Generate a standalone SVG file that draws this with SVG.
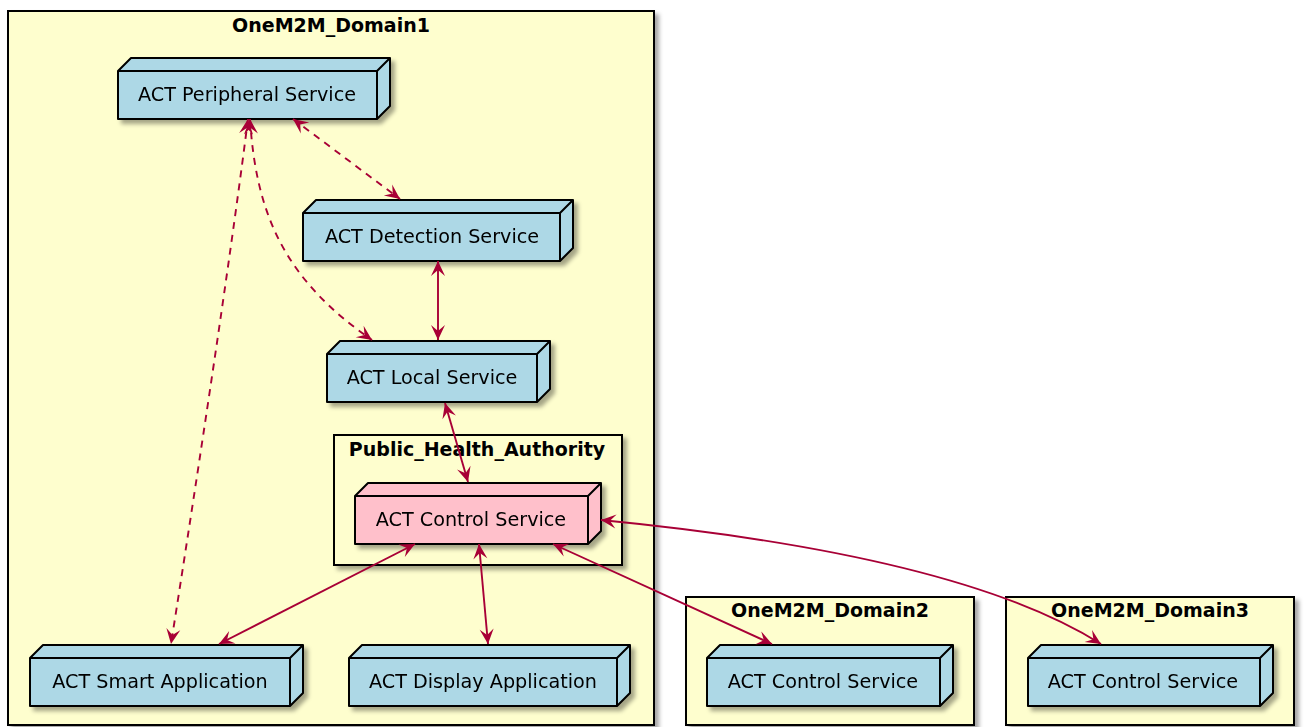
<svg xmlns="http://www.w3.org/2000/svg" width="1304" height="727" viewBox="0 0 1304 727">
<style>
.frame{fill:#FEFECE;stroke:#000;stroke-width:2;filter:url(#sh)}
.ftitle{font-family:"DejaVu Sans",sans-serif;font-weight:bold;font-size:19px;fill:#000;text-anchor:middle}
.node{stroke:#000;stroke-width:2;stroke-linejoin:round}
.blue{fill:#ADD8E6}
.pink{fill:#FFC0CB}
.ntext{font-family:"DejaVu Sans",sans-serif;font-size:19.2px;fill:#000;text-anchor:middle}
.edge{fill:none;stroke:#A80036;stroke-width:1.9;marker-start:url(#ah);marker-end:url(#ah)}
.dash{stroke-dasharray:7,6}
</style>
<defs>
<filter id="sh" x="-10%" y="-10%" width="130%" height="130%">
<feDropShadow dx="4" dy="4" stdDeviation="2" flood-color="#000" flood-opacity="0.35"/>
</filter>
<marker id="ah" viewBox="-17 -9 18 18" refX="0" refY="0" markerWidth="18" markerHeight="18" orient="auto-start-reverse" markerUnits="userSpaceOnUse">
<path d="M0,0 L-15,-7 L-9,0 L-15,7 Z" fill="#A80036"/>
</marker>
</defs>
<rect width="1304" height="727" fill="#fff"/>

<g id="OneM2M_Domain1">
<rect class="frame" x="8" y="11" width="646" height="714"/>
<text class="ftitle" x="331" y="32">OneM2M_Domain1</text>
</g>
<g id="OneM2M_Domain2">
<rect class="frame" x="686" y="597" width="288" height="128"/>
<text class="ftitle" x="830" y="617">OneM2M_Domain2</text>
</g>
<g id="OneM2M_Domain3">
<rect class="frame" x="1006" y="597" width="288" height="128"/>
<text class="ftitle" x="1150" y="617">OneM2M_Domain3</text>
</g>
<g id="Public_Health_Authority">
<rect class="frame" x="334" y="435" width="288" height="130"/>
<text class="ftitle" x="477" y="456">Public_Health_Authority</text>
</g>

<g id="peripheral" filter="url(#sh)">
<path class="node blue" d="M118,71 L131,58 L390,58 L390,106 L377,119 L118,119 Z"/>
<path class="node" fill="none" d="M118,71 L377,71 L390,58 M377,71 L377,119"/>
<text class="ntext" x="247" y="101">ACT Peripheral Service</text>
</g>
<g id="detection" filter="url(#sh)">
<path class="node blue" d="M303,213 L316,200 L573,200 L573,248 L560,261 L303,261 Z"/>
<path class="node" fill="none" d="M303,213 L560,213 L573,200 M560,213 L560,261"/>
<text class="ntext" x="432" y="243">ACT Detection Service</text>
</g>
<g id="local" filter="url(#sh)">
<path class="node blue" d="M327,354 L340,341 L550,341 L550,389 L537,402 L327,402 Z"/>
<path class="node" fill="none" d="M327,354 L537,354 L550,341 M537,354 L537,402"/>
<text class="ntext" x="432" y="384">ACT Local Service</text>
</g>
<g id="control_pha" filter="url(#sh)">
<path class="node pink" d="M355,496 L368,483 L601,483 L601,531 L588,544 L355,544 Z"/>
<path class="node" fill="none" d="M355,496 L588,496 L601,483 M588,496 L588,544"/>
<text class="ntext" x="471" y="526">ACT Control Service</text>
</g>
<g id="smart" filter="url(#sh)">
<path class="node blue" d="M30,658 L43,645 L303,645 L303,693 L290,706 L30,706 Z"/>
<path class="node" fill="none" d="M30,658 L290,658 L303,645 M290,658 L290,706"/>
<text class="ntext" x="160" y="688">ACT Smart Application</text>
</g>
<g id="display" filter="url(#sh)">
<path class="node blue" d="M349,658 L362,645 L630,645 L630,693 L617,706 L349,706 Z"/>
<path class="node" fill="none" d="M349,658 L617,658 L630,645 M617,658 L617,706"/>
<text class="ntext" x="483" y="688">ACT Display Application</text>
</g>
<g id="control_d2" filter="url(#sh)">
<path class="node blue" d="M707,658 L720,645 L953,645 L953,693 L940,706 L707,706 Z"/>
<path class="node" fill="none" d="M707,658 L940,658 L953,645 M940,658 L940,706"/>
<text class="ntext" x="823" y="688">ACT Control Service</text>
</g>
<g id="control_d3" filter="url(#sh)">
<path class="node blue" d="M1028,658 L1041,645 L1273,645 L1273,693 L1260,706 L1028,706 Z"/>
<path class="node" fill="none" d="M1028,658 L1260,658 L1273,645 M1260,658 L1260,706"/>
<text class="ntext" x="1143" y="688">ACT Control Service</text>
</g>

<g id="connectors">
<path class="edge dash" d="M293,119 L400,199"/>
<path class="edge dash" d="M250,119 C256,215 285,280 372,340"/>
<path class="edge dash" d="M248,119 Q225,300 171,644"/>
<path class="edge" d="M438,261 L438,340"/>
<path class="edge" d="M445,403 L468,482"/>
<path class="edge" d="M415,544 L219,644"/>
<path class="edge" d="M479,544 L488,644"/>
<path class="edge" d="M553,544 L772,644"/>
<path class="edge" d="M601,520 Q960,555 1101,644"/>
</g>
</svg>
